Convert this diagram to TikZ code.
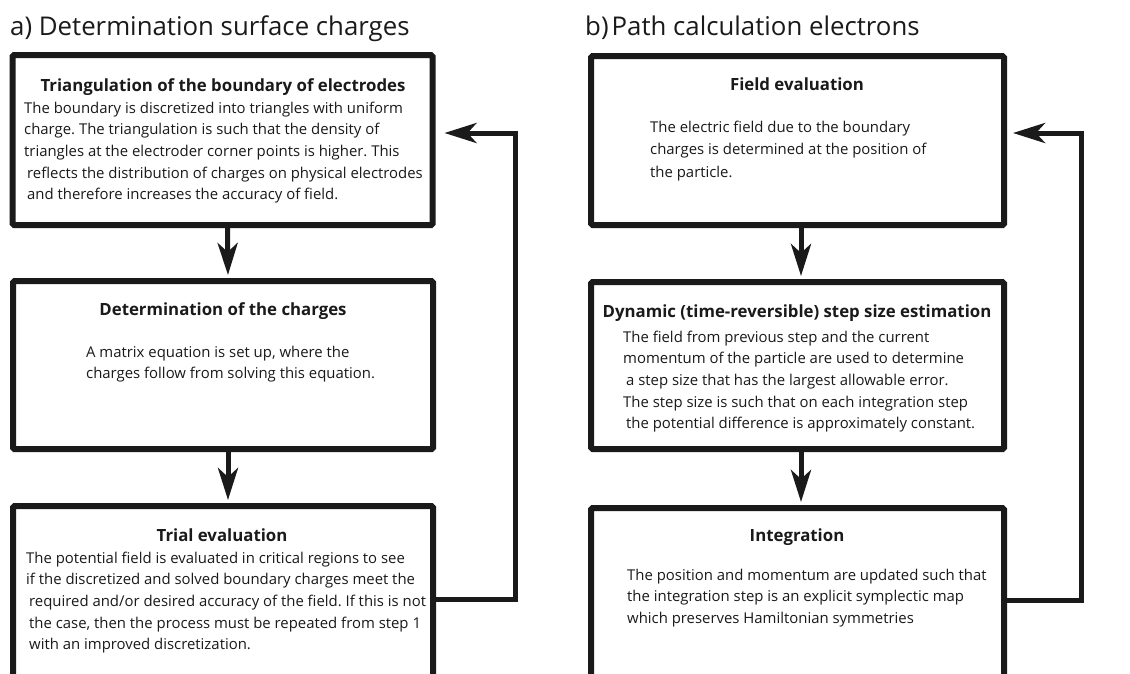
\documentclass[tikz,border=0pt]{standalone}
\usepackage{fontspec}
\setmainfont{Open Sans}
\usetikzlibrary{arrows.meta}
\frenchspacing
\newcommand{\txtlines}[1]{\begin{tabular}[t]{@{}l@{}}#1\end{tabular}}
\definecolor{ink}{HTML}{1A1A1A}
\tikzset{
  box/.style={draw=ink, line width=6pt, rounded corners=1.5pt, inner sep=0pt},
  paneltitle/.style={anchor=base west, inner sep=0pt, text=ink, font=\fontsize{25.8}{30}\selectfont},
  boxtitle/.style={anchor=base, inner sep=0pt, text=ink, font=\fontsize{16.8}{19}\selectfont\bfseries},
  bodytxt/.style={anchor=base west, inner sep=0pt, text=ink, font=\fontsize{14.9}{21.7}\selectfont},
  conn/.style={draw=ink, line width=5pt, -{Stealth[length=32pt, width=20pt, inset=9pt]}},
}
\begin{document}
\begin{tikzpicture}[x=1pt, y=-1pt]
\useasboundingbox (0,0) rectangle (1130,673);
\clip (0,0) rectangle (1130,673);
\fill[white] (0,0) rectangle (1130,673);

% panel titles
\node[paneltitle] (ta) at (10,35) {a) Determination surface charges};
\node[paneltitle] (tb) at (585,35) {b)\hspace{3pt}Path calculation electrons};

% left boxes
\node[box, minimum width=420pt, minimum height=170pt] (a1) at (222.5,140) {};
\node[box, minimum width=420pt, minimum height=168pt] (a2) at (223,365) {};
\node[box, minimum width=420pt, minimum height=186pt] (a3) at (223,599) {};

% right boxes
\node[box, minimum width=413pt, minimum height=169pt] (b1) at (797.5,140.5) {};
\node[box, minimum width=413pt, minimum height=167pt] (b2) at (797.5,365.5) {};
\node[box, minimum width=413pt, minimum height=184pt] (b3) at (797.5,600) {};

% left texts
\node[boxtitle] (a1t) at (223,91) {Triangulation of the boundary of electrodes};
\node[bodytxt] (a1b) at (24,113) {\txtlines{The boundary is discretized into triangles with uniform\\
charge. The triangulation is such that the density of\\
triangles at the electroder corner points is higher. This\\
\hspace{3pt}reflects the distribution of charges on physical electrodes\\
\hspace{3pt}and therefore increases the accuracy of field.}};

\node[boxtitle] (a2t) at (223,315) {Determination of the charges};
\node[bodytxt] (a2b) at (86,357) {\txtlines{A matrix equation is set up, where the\\
charges follow from solving this equation.}};

\node[boxtitle] (a3t) at (222,541) {Trial evaluation};
\node[bodytxt] (a3b) at (26,563) {\txtlines{The potential field is evaluated in critical regions to see\\
if the discretized and solved boundary charges meet the\\
\hspace{3pt}required and/or desired accuracy of the field. If this is not\\
\hspace{3pt}the case, then the process must be repeated from step 1\\
\hspace{3pt}with an improved discretization.}};

% right texts
\node[boxtitle] (b1t) at (797,90) {Field evaluation};
\node[bodytxt, font=\fontsize{14.9}{22.5}\selectfont] (b1b) at (650,132) {\txtlines{The electric field due to the boundary\\
charges is determined at the position of\\
the particle.}};

\node[boxtitle] (b2t) at (797,317) {Dynamic (time-reversible) step size estimation};
\node[bodytxt] (b2b) at (623,342) {\txtlines{The field from previous step and the current\\
momentum of the particle are used to determine\\
\hspace{3pt}a step size that has the largest allowable error.\\
The step size is such that on each integration step\\
\hspace{3pt}the potential difference is approximately constant.}};

\node[boxtitle] (b3t) at (797,541) {Integration};
\node[bodytxt] (b3b) at (627,580) {\txtlines{The position and momentum are updated such that\\
the integration step is an explicit symplectic map\\
which preserves Hamiltonian symmetries}};

% connectors left
\draw[conn, shorten >=3pt] ([xshift=5pt]a1.south) -- ([xshift=5pt]a2.north);
\draw[conn, shorten >=3pt] ([xshift=5pt]a2.south) -- ([xshift=5pt]a3.north);
\coordinate (fa) at (515,0);
\coordinate (a1r) at ([yshift=7pt]a1.east);
\draw[conn, shorten >=9pt] (a3.east) -- (a3.east -| fa) -- (fa |- a1r) -- (a1r);

% connectors right
\draw[conn, shorten >=3pt] ([xshift=3.5pt]b1.south) -- ([xshift=3.5pt]b2.north);
\draw[conn, shorten >=3pt] ([xshift=3.5pt]b2.south) -- ([xshift=3.5pt]b3.north);
\coordinate (fb) at (1081,0);
\coordinate (b1r) at ([yshift=7.5pt]b1.east);
\draw[conn, shorten >=6pt] (b3.east) -- (b3.east -| fb) -- (fb |- b1r) -- (b1r);
\end{tikzpicture}
\end{document}
